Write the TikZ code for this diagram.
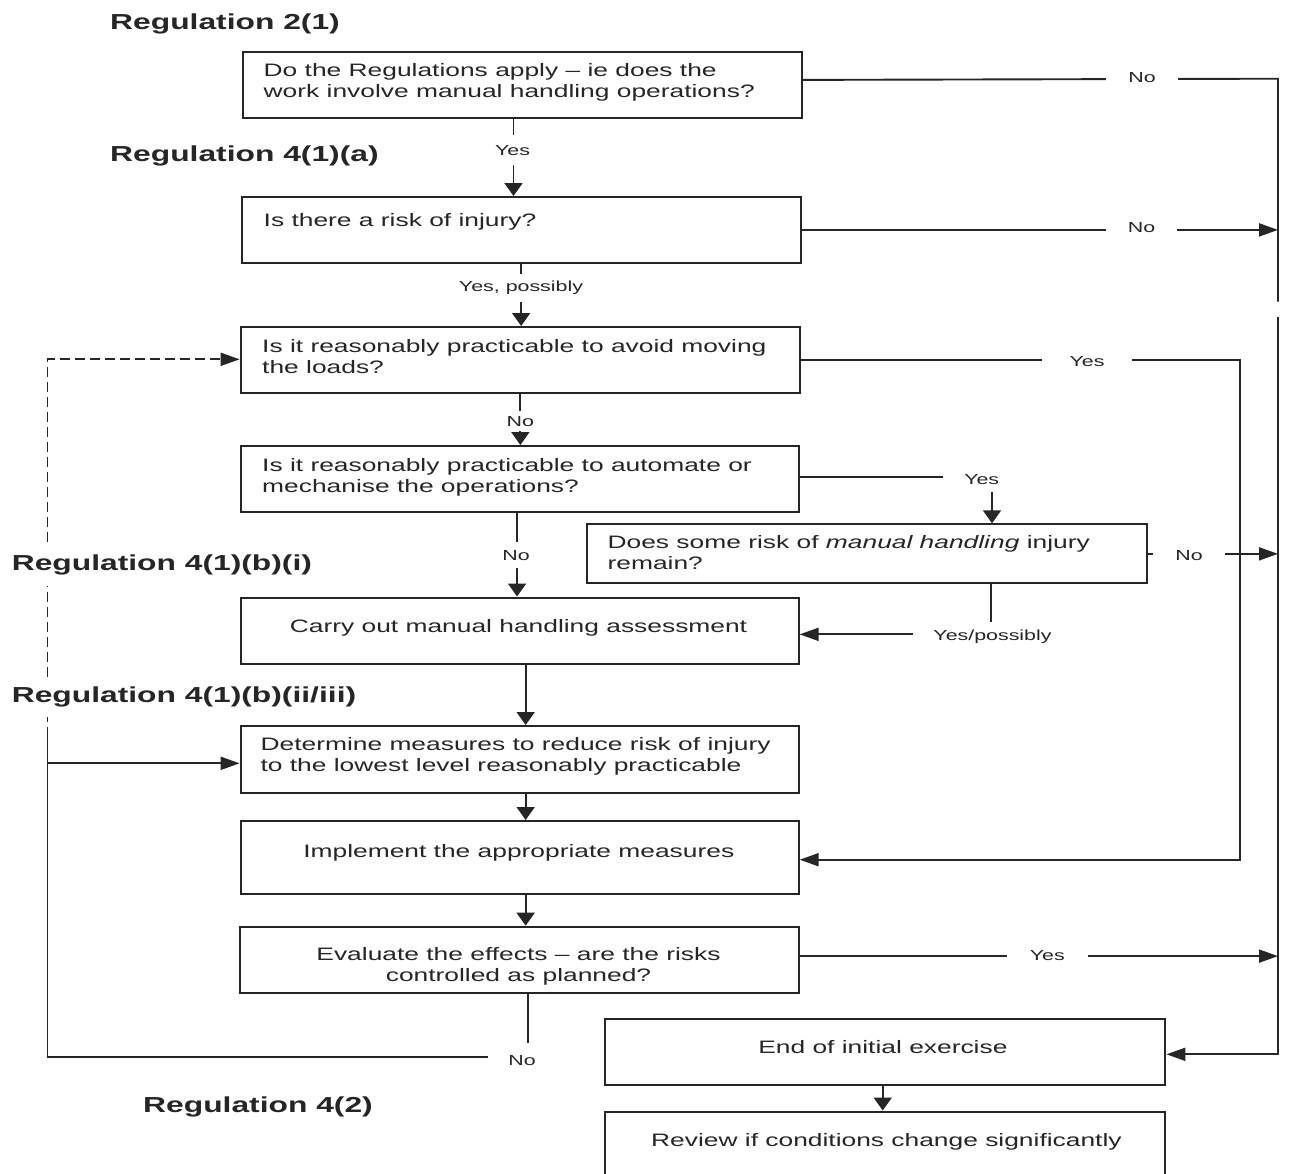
\documentclass[tikz,border=0pt]{standalone}
\usepackage{fontspec}
\setmainfont[FakeStretch=1.465]{Liberation Sans}
\usetikzlibrary{arrows.meta}
\definecolor{ink}{HTML}{262626}
\tikzset{
  box/.style={draw=ink, line width=2.1pt, inner sep=0pt, anchor=north west},
  txt/.style={inner sep=0pt, text=ink, font=\fontsize{18}{21}\selectfont},
  reg/.style={inner sep=0pt, text=ink, font=\bfseries\fontsize{21.7}{26}\selectfont, anchor=base west},
  lbl/.style={fill=white, text=ink, font=\fontsize{14.6}{17}\selectfont, inner xsep=21pt, inner ysep=7pt, anchor=base},
  conn/.style={draw=ink, line width=1.9pt},
  harr/.style={conn, -{Triangle[length=19pt,width=13pt]}},
  varr/.style={conn, -{Triangle[length=13pt,width=18pt]}},
  dashline/.style={dash pattern=on 10pt off 5pt},
}
\begin{document}
\begin{tikzpicture}[x=1pt,y=-1pt]
\useasboundingbox (0,0) rectangle (1289,1173);
\fill[white] (0,0) rectangle (1289,1173);
\clip (0,0) rectangle (1289,1173);

% boxes
\node[box, minimum width=559.5pt, minimum height=66.3pt] (b1) at (241.5,51) {};
\node[box, minimum width=558.8pt, minimum height=65.7pt] (b2) at (240.7,196) {};
\node[box, minimum width=559.4pt, minimum height=65.7pt] (b3) at (239.6,326) {};
\node[box, minimum width=558pt, minimum height=66pt] (b4) at (239.6,445) {};
\node[box, minimum width=560.5pt, minimum height=59pt] (b5) at (585.5,523.3) {};
\node[box, minimum width=558pt, minimum height=66.2pt] (b6) at (239.6,596.5) {};
\node[box, minimum width=558pt, minimum height=67.3pt] (b7) at (239.6,725) {};
\node[box, minimum width=558pt, minimum height=73.3pt] (b8) at (239.6,820) {};
\node[box, minimum width=558.7pt, minimum height=66.3pt] (b9) at (238.8,925.7) {};
\node[box, minimum width=560.3pt, minimum height=66.5pt] (b10) at (604,1017.5) {};
\node[box, minimum width=560.3pt, minimum height=90pt] (b11) at (604,1110.5) {};

% helper coordinates
\coordinate (rT) at (1278,78.7);
\coordinate (rA) at (1278,301.7);
\coordinate (rB) at (1278,316.7);
\coordinate (rE) at (1278,1054.3);
\coordinate (yT) at (1239.6,357.3);
\coordinate (lB) at (47.5,1057.3);
\coordinate (lS) at (47.5,736.7);
\coordinate (lM) at (47.5,763.3);
\coordinate (lD) at (47.5,359.3);
\coordinate (p1) at ([xshift=-8.8pt]b1.south);
\coordinate (p1e) at ([yshift=5.3pt]b1.east);
\coordinate (p4) at ([xshift=-2.6pt]b4.south);
\coordinate (p4e) at ([yshift=2.3pt]b4.east);
\coordinate (p5t) at ([xshift=125.2pt]b5.north);
\coordinate (p5b) at ([xshift=124.5pt]b5.south);
\coordinate (p6e) at ([yshift=-3.7pt]b6.east);
\coordinate (p6b) at ([xshift=6pt]b6.south);
\coordinate (p7b) at ([xshift=6pt]b7.south);
\coordinate (p8b) at ([xshift=6pt]b8.south);
\coordinate (p8e) at ([yshift=-2pt]b8.east);
\coordinate (p9e) at ([yshift=3.8pt]b9.east);
\coordinate (p9b) at ([xshift=9pt]b9.south);
\coordinate (p10b) at ([xshift=-2.5pt]b10.south);

% connectors
\draw[varr] (p1) -- (p1 |- b2.north);
\draw[varr] (b2.south) -- (b2.south |- b3.north);
\draw[varr] (b3.south) -- (b3.south |- b4.north);
\draw[varr] (p4) -- (p4 |- b6.north);
\draw[conn] (p1e) -- (rT) -- (rA);
\draw[harr] (rB) -- (rE) -- (rE -| b10.east);
\draw[harr] (b2.east) -- (b2.east -| rT);
\draw[harr] (b3.east) -- (b3.east -| yT) -- (yT |- p8e) -- (p8e);
\draw[varr] (p4e) -| (p5t);
\draw[harr] (b5.east) -- (b5.east -| rT);
\draw[harr] (p5b) |- (p6e);
\draw[varr] (p6b) -- (p6b |- b7.north);
\draw[varr] (p7b) -- (p7b |- b8.north);
\draw[varr] (p8b) -- (p8b |- b9.north);
\draw[harr] (p9e) -- (p9e -| rT);
\draw[conn] (p9b) |- (lB) -- (lS);
\draw[harr] (lM) -- (lM -| b7.west);
\draw[harr, dashline] (lS) -- (lD) -- (lD -| b3.west);
\draw[varr] (p10b) -- (p10b |- b11.north);

% connector labels
\node[lbl, inner ysep=10pt] (L1) at (512.5,155) {Yes};
\node[lbl] (L2) at (521,291.7) {Yes, possibly};
\node[lbl, inner ysep=5pt] (L3) at (520.3,426) {No};
\node[lbl, inner ysep=8pt] (L4) at (516,560) {No};
\node[lbl, inner xsep=22pt] (L5) at (1142,82.3) {No};
\node[lbl, inner xsep=22pt] (L6) at (1141.5,232.3) {No};
\node[lbl, inner xsep=28pt] (L7) at (1087,366.7) {Yes};
\node[lbl, inner ysep=8pt] (L8) at (981.7,484) {Yes};
\node[lbl, inner xsep=22pt] (L9) at (1189,560.7) {No};
\node[lbl, inner xsep=20pt] (L10) at (992.5,640) {Yes/possibly};
\node[lbl, inner xsep=23pt] (L11) at (1047.3,960.7) {Yes};
\node[lbl, inner xsep=20.6pt, inner ysep=13pt] (L12) at (522,1065.7) {No};

% regulation headings
\node[reg] (R1) at (110,29.3) {Regulation 2(1)};
\node[reg] (R2) at (110,161.7) {Regulation 4(1)(a)};
\node[reg, fill=white, inner ysep=11pt] (R3) at (11.6,570) {Regulation 4(1)(b)(i)};
\node[reg, fill=white, inner ysep=10pt] (R4) at (11.6,702.3) {Regulation 4(1)(b)(ii/iii)};
\node[reg] (R5) at (143,1112.7) {Regulation 4(2)};

% box texts
\node[txt, anchor=north west, align=left] (t1) at (263.5,63.2) {Do the Regulations apply – ie does the\\work involve manual handling operations?};
\node[txt, anchor=base west] (t2) at (263.5,226) {Is there a risk of injury?};
\node[txt, anchor=north west, align=left] (t3) at (262,338.8) {Is it reasonably practicable to avoid moving\\the loads?};
\node[txt, anchor=north west, align=left] (t4) at (262,457.8) {Is it reasonably practicable to automate or\\mechanise the operations?};
\node[txt, anchor=north west, align=left] (t5) at (607.4,535.4) {Does some risk of \textit{manual handling} injury\\remain?};
\node[txt, anchor=base] (t6) at (518.5,632.7) {Carry out manual handling assessment};
\node[txt, anchor=north west, align=left] (t7) at (260.4,737.1) {Determine measures to reduce risk of injury\\to the lowest level reasonably practicable};
\node[txt, anchor=base] (t8) at (518.8,857.3) {Implement the appropriate measures};
\node[txt, anchor=north, align=center] (t9) at (518.5,947.1) {Evaluate the effects – are the risks\\controlled as planned?};
\node[txt, anchor=base] (t10) at (882.9,1053.3) {End of initial exercise};
\node[txt, anchor=base] (t11) at (886.4,1146.7) {Review if conditions change significantly};
\end{tikzpicture}
\end{document}
